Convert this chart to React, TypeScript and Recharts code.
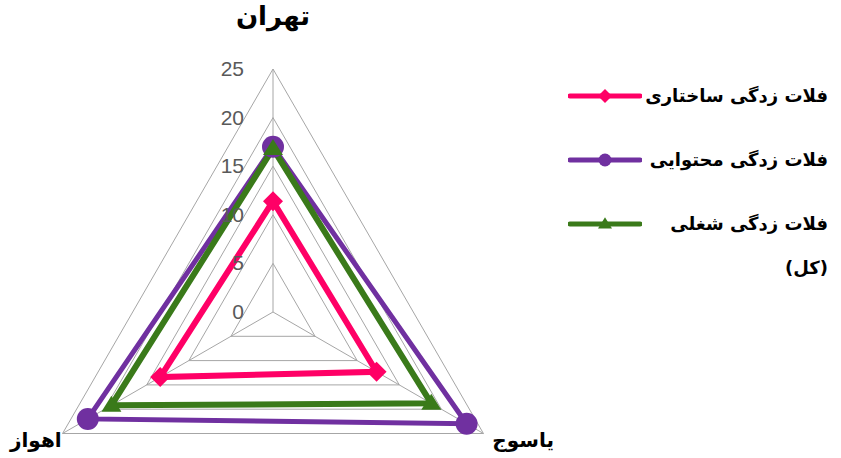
import { RadarChart, Radar, PolarGrid, PolarAngleAxis, PolarRadiusAxis, Legend } from "recharts";

const cities = ["تهران", "یاسوج", "اهواز"];
const structural = [11.4, 12.3, 13.4];
const content = [17.0, 23.0, 22.0];
const job = [16.8, 18.8, 19.2];
const radiusTicks = [0, 5, 10, 15, 20, 25];

const seriesNames = ["فلات زدگی ساختاری", "فلات زدگی محتوایی", "فلات زدگی شغلی (کل)"];
const seriesColors = ["#FF0066", "#7030A0", "#3A7A1A"];
const seriesMarkers = ["diamond", "circle", "triangle"];

const data = cities.map((city, i) => ({
    city,
    s0: structural[i],
    s1: content[i],
    s2: job[i],
}));

const CX = 273;
const CY = 312;
const R = 243;
const PERSIAN_FONT = "'DejaVu Sans', sans-serif";

function markerShape(kind: string, x: number, y: number, size: number, color: string, key?: any) {
    if (kind === "diamond") {
        return <path key={key} d={`M${x},${y - size}L${x + size},${y}L${x},${y + size}L${x - size},${y}Z`} fill={color} />;
    }
    if (kind === "circle") {
        return <circle key={key} cx={x} cy={y} r={size} fill={color} />;
    }
    const h = size * 1.6;
    return <path key={key} d={`M${x},${y - h * 0.6}L${x + size},${y + h * 0.4}L${x - size},${y + h * 0.4}Z`} fill={color} />;
}

const makeDot = (idx: number, size: number) => (props: any) =>
    markerShape(seriesMarkers[idx], props.cx, props.cy, size, seriesColors[idx], props.key ?? `${idx}-${props.index}`);

const RadiusTick = (props: any) => {
    const { x, y, payload } = props;
    return (
        <text x={x - 29} y={y} dy={7} textAnchor="end" fontSize={21} fill="#595959" fontFamily="'Liberation Sans', sans-serif">
            {payload.value}
        </text>
    );
};

const AngleTick = (props: any) => {
    const { x, y, payload } = props;
    let tx = x;
    let ty = y;
    let anchor: "middle" | "start" | "end" = "middle";
    let size = 20;
    if (payload.value === cities[0]) {
        ty = y - 36;
        size = 26;
    } else if (payload.value === cities[1]) {
        tx = x + 2;
        ty = y + 9;
        anchor = "start";
    } else {
        tx = x + 6;
        ty = y + 9;
        anchor = "end";
    }
    return (
        <text x={tx} y={ty} textAnchor={anchor} fontSize={size} fontWeight="bold" fill="#000" fontFamily={PERSIAN_FONT}>
            {payload.value}
        </text>
    );
};

const LegendContent = () => (
    <div style={{ display: "flex", flexDirection: "column" }}>
        {seriesNames.map((name, i) => (
            <div key={name} style={{ display: "flex", alignItems: "flex-start", height: 64 }}>
                <svg width={74} height={20} style={{ marginTop: 2 }}>
                    <line x1={2} y1={10} x2={72} y2={10} stroke={seriesColors[i]} strokeWidth={5} strokeLinecap="round" />
                    {markerShape(seriesMarkers[i], 37, 10, i === 1 ? 6.5 : 7, seriesColors[i])}
                </svg>
                <div
                    style={{
                        width: 186,
                        direction: "rtl",
                        textAlign: "right",
                        fontFamily: PERSIAN_FONT,
                        fontWeight: "bold",
                        fontSize: 18,
                        lineHeight: "44px",
                        marginTop: -10,
                        color: "#000",
                    }}
                >
                    {name}
                </div>
            </div>
        ))}
    </div>
);

export default function App() {
    return (
        <div style={{ position: "absolute", left: 0, top: 0, width: 841, height: 458, background: "#fff" }}>
            <RadarChart width={841} height={458} data={data} cx={CX} cy={CY} outerRadius={R} startAngle={90} endAngle={-270}>
                <PolarGrid gridType="polygon" stroke="#a6a6a6" strokeWidth={1} />
                <PolarAngleAxis dataKey="city" tick={AngleTick} tickLine={false} axisLine={false} />
                <PolarRadiusAxis
                    angle={90}
                    domain={[0, 25]}
                    ticks={radiusTicks as any}
                    tickCount={6}
                    tick={RadiusTick}
                    axisLine={false}
                    tickLine={false}
                />
                <Radar name={seriesNames[0]} dataKey="s0" stroke={seriesColors[0]} strokeWidth={6} fill="none" fillOpacity={0} dot={makeDot(0, 10)} isAnimationActive={false} />
                <Radar name={seriesNames[1]} dataKey="s1" stroke={seriesColors[1]} strokeWidth={5} fill="none" fillOpacity={0} dot={makeDot(1, 11)} isAnimationActive={false} />
                <Radar name={seriesNames[2]} dataKey="s2" stroke={seriesColors[2]} strokeWidth={6} fill="none" fillOpacity={0} dot={makeDot(2, 10)} isAnimationActive={false} />
                <Legend
                    layout="vertical"
                    align="right"
                    verticalAlign="top"
                    content={LegendContent}
                    wrapperStyle={{ position: "absolute", left: 568, top: 84, width: 265 }}
                />
            </RadarChart>
        </div>
    );
}
